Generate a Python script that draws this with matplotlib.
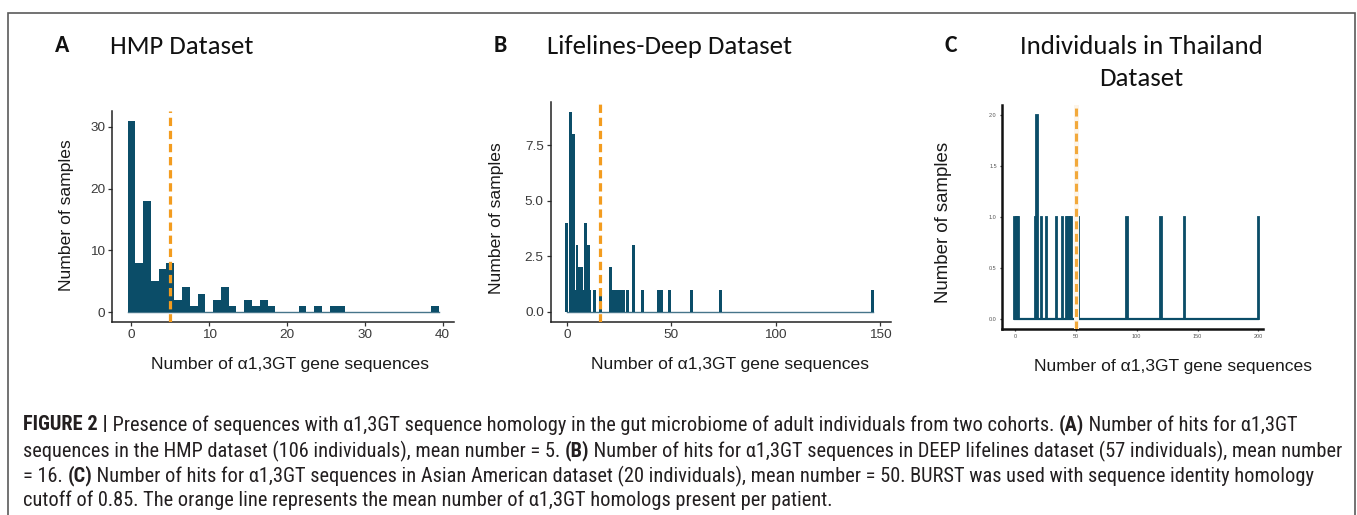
import matplotlib
matplotlib.use('Agg')
import matplotlib.pyplot as plt
from matplotlib import font_manager
from matplotlib.patches import Rectangle

# ---- data ----
# A: HMP dataset, hits per sample (bin centre) and number of samples
hmp_hits = [0, 1, 2, 3, 4, 5, 6, 7, 8, 9, 11, 12, 13, 15, 16, 17, 18, 22, 24, 26, 27, 39]
hmp_counts = [31, 8, 18, 5, 7, 8, 2, 4, 1, 3, 2, 4, 1, 2, 1, 2, 1, 1, 1, 1, 1, 1]
hmp_mean = 5

# B: Lifelines-Deep dataset
deep_hits = [0.0, 1.75, 3.0, 4.0, 4.9, 6.0, 7.1, 8.1, 9.0, 10.2, 11.1, 13.2, 16.0,
             21.1, 22.4, 23.5, 24.8, 25.9, 27.1, 29.0, 32.1, 36.2, 44.1, 45.4, 49.0,
             59.7, 73.7, 146.5]
deep_counts = [4, 9, 8, 1, 3, 2, 2, 1, 4, 3, 1, 1, 1,
               2, 1, 1, 1, 1, 1, 1, 3, 1, 1, 1, 1,
               1, 1, 1]
deep_mean = 16

# C: Individuals in Thailand dataset
thai_hits = [0, 1, 2, 3, 17, 18, 22, 26, 34, 39, 42, 43, 45, 46, 52, 92, 120, 139, 200]
thai_counts = [1, 1, 1, 1, 1, 2, 1, 1, 1, 1, 1, 1, 1, 1, 1, 1, 1, 1, 1]
thai_mean = 50

titles = ["HMP Dataset", "Lifelines-Deep Dataset", "Individuals in Thailand\nDataset"]
letters = ["A", "B", "C"]
xlabel = "Number of \u03b11,3GT gene sequences"
ylabel = "Number of samples"

caption = [
    [("FIGURE 2 |", True),
     (" Presence of sequences with \u03b11,3GT sequence homology in the gut microbiome of adult individuals from two cohorts. ", False),
     ("(A)", True), (" Number of hits for \u03b11,3GT", False)],
    [("sequences in the HMP dataset (106 individuals), mean number = 5. ", False),
     ("(B)", True),
     (" Number of hits for \u03b11,3GT sequences in DEEP lifelines dataset (57 individuals), mean number", False)],
    [("= 16. ", False), ("(C)", True),
     (" Number of hits for \u03b11,3GT sequences in Asian American dataset (20 individuals), mean number = 50. BURST was used with sequence identity homology", False)],
    [("cutoff of 0.85. The orange line represents the mean number of \u03b11,3GT homologs present per patient.", False)],
]

bar_col = '#0b4d68'
mean_col = '#f39c1f'


def pick(names):
    for n in names:
        try:
            font_manager.findfont(font_manager.FontProperties(family=n), fallback_to_default=False)
            return n
        except Exception:
            pass
    return 'DejaVu Sans'


title_font = pick(['Carlito', 'Lato', 'Open Sans'])
axis_font = pick(['Liberation Sans', 'Arial'])
cap_font = pick(['Liberation Sans Narrow', 'Roboto Condensed', 'Liberation Sans'])

W, H = 1357, 515
fig = plt.figure(figsize=(W / 100, H / 100), dpi=100, facecolor='white')


def fx(x):
    return x / W


def fy(y):
    return 1 - y / H


def axes_px(left, top, right, bottom):
    return fig.add_axes([fx(left), fy(bottom), (right - left) / W, (bottom - top) / H])


def style(ax, lw, tick_size, tick_col, tick_len):
    for s in ['top', 'right']:
        ax.spines[s].set_visible(False)
    for s in ['left', 'bottom']:
        ax.spines[s].set_linewidth(lw)
        ax.spines[s].set_color('#222222')
    ax.tick_params(labelsize=tick_size, labelcolor=tick_col, color='#333333',
                   length=tick_len, width=0.9, pad=2)
    for lab in ax.get_xticklabels() + ax.get_yticklabels():
        lab.set_family(axis_font)
    ax.set_facecolor('none')


# ---- panel A ----
axA = axes_px(112, 111.2, 454.3, 321.6)
axA.bar(hmp_hits, hmp_counts, width=1.0, color=bar_col, linewidth=0, zorder=2)
axA.plot([min(hmp_hits) - 0.5, max(hmp_hits) + 0.5], [0, 0], color='#46758a', lw=1.0, zorder=1)
axA.axvline(hmp_mean, color=mean_col, lw=2.3, dashes=(2.6, 1.5), zorder=3)
axA.set_xlim(-2.5, 41.5)
axA.set_ylim(-1.55, 32.55)
axA.set_xticks([0, 10, 20, 30, 40])
axA.set_yticks([0, 10, 20, 30])
style(axA, 1.1, 9.7, '#3a3a3a', 3)

# ---- panel B ----
axB = axes_px(550.7, 101.9, 890.5, 321.7)
axB.bar(deep_hits, deep_counts, width=1.4, color=bar_col, linewidth=0, zorder=2)
axB.plot([min(deep_hits), max(deep_hits)], [0, 0], color='#46758a', lw=1.0, zorder=1)
axB.axvline(deep_mean, color=mean_col, lw=2.3, dashes=(2.6, 1.5), zorder=3)
axB.set_xlim(-7.7, 155)
axB.set_ylim(-0.45, 9.45)
axB.set_xticks([0, 50, 100, 150])
axB.set_yticks([0, 2.5, 5, 7.5])
axB.set_yticklabels(['0.0', '2.5', '5.0', '7.5'])
style(axB, 1.1, 9.7, '#3a3a3a', 3)

# ---- panel C ----
axC = axes_px(1001.6, 104.8, 1263.3, 329.2)
axC.bar(thai_hits, thai_counts, width=1.0, color=bar_col, edgecolor=bar_col, linewidth=1.3, zorder=2)
axC.plot([min(thai_hits), max(thai_hits)], [0, 0], color=bar_col, lw=1.6, zorder=1)
axC.axvline(thai_mean, color='#fdf5ea', lw=3.6, zorder=3)
axC.axvline(thai_mean, color='#f2a93b', lw=2.2, dashes=(2.6, 1.5), zorder=4)
axC.set_xlim(-11, 204)
axC.set_ylim(-0.1, 2.1)
axC.set_xticks([0, 50, 100, 150, 200])
axC.set_yticks([0, 0.5, 1, 1.5, 2])
axC.set_yticklabels(['0.0', '0.5', '1.0', '1.5', '2.0'])
style(axC, 1.8, 4, '#555555', 1.5)
axC.spines['left'].set_color('#111111')
axC.spines['bottom'].set_color('#111111')

# ---- axis titles ----
lab_kw = dict(fontsize=12.6, family=axis_font, color='#1a1a1a', va='center', ha='center')
fig.text(fx(290), fy(365), xlabel, **lab_kw)
fig.text(fx(730), fy(365), xlabel, **lab_kw)
fig.text(fx(1173), fy(366), xlabel, **lab_kw)
fig.text(fx(66), fy(215), ylabel, rotation=90, **lab_kw)
fig.text(fx(497), fy(218), ylabel, rotation=90, **lab_kw)
fig.text(fx(944), fy(222), ylabel, rotation=90, **dict(lab_kw, fontsize=13.4))

# ---- panel letters and titles ----
let_x = [62, 500, 951]
tit_x = [110, 547, 1141]
for i in range(3):
    fig.text(fx(let_x[i]), fy(46), letters[i], fontsize=17, fontweight='bold',
             family=title_font, va='center', ha='center', color='#111111')
for i in range(2):
    fig.text(fx(tit_x[i]), fy(46), titles[i], fontsize=19.3, family=title_font,
             va='center', ha='left', color='#111111')
fig.text(fx(tit_x[2]), fy(62.5), titles[2], fontsize=19.3, family=title_font,
         va='center', ha='center', color='#111111', linespacing=1.5)

# ---- caption, fitted to the width of its longest line ----
renderer = fig.canvas.get_renderer()


def line_width(segs, size):
    total = 0
    for text, bold in segs:
        t = fig.text(0, 0, text, fontsize=size, family=cap_font,
                     fontweight='bold' if bold else 'normal')
        total += t.get_window_extent(renderer).width
        t.remove()
    return total


cap_size = 12 * (1340 - 23) / line_width(caption[1], 12)
cap_y = [425, 451, 476, 500]
for segs, y in zip(caption, cap_y):
    x = 23
    for text, bold in segs:
        t = fig.text(fx(x), fy(y), text, fontsize=cap_size, family=cap_font,
                     fontweight='bold' if bold else 'normal', va='center', ha='left',
                     color='#231f20')
        x += t.get_window_extent(renderer).width

# ---- frame ----
fig.add_artist(Rectangle((fx(7.5), fy(517)), (1355 - 7.5) / W, (517 - 12.7) / H,
                         transform=fig.transFigure, fill=False, edgecolor='#5a5a5a', lw=1.2))

fig.savefig('out.png', dpi=100, facecolor='white')
